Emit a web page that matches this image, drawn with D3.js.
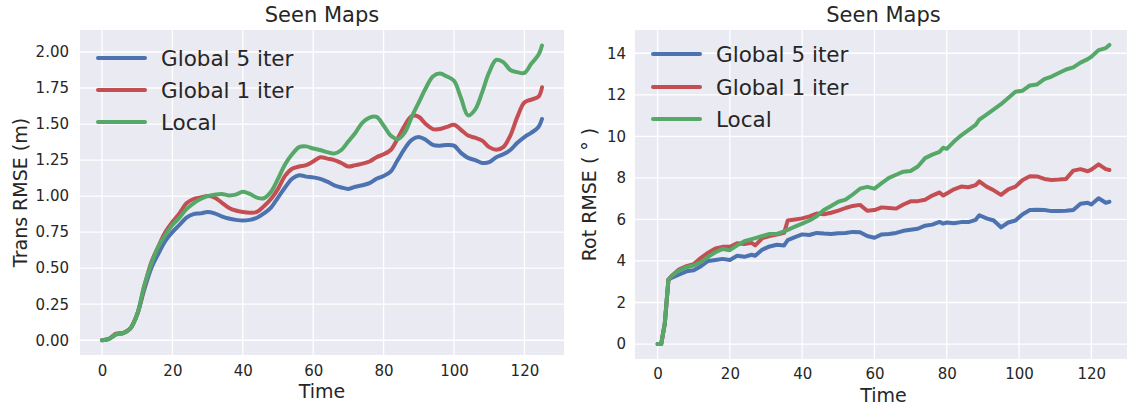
<!DOCTYPE html>
<html>
<head>
<meta charset="utf-8">
<script src="https://cdn.jsdelivr.net/npm/d3@7"></script>
<style>
  html, body { margin: 0; padding: 0; background: #ffffff; }
  svg { display: block; }
  text { font-family: "DejaVu Sans", sans-serif; fill: #262626; }
</style>
</head>
<body>
<svg id="chart" width="1127" height="410"></svg>
<script>
// ---------------- DATA ----------------
const seriesNames = ["Global 5 iter", "Global 1 iter", "Local"];
const seriesColors = ["#4C72B0", "#C44E52", "#55A868"];

const chartTitle = "Seen Maps";
const xLabel = "Time";
const transYLabel = "Trans RMSE (m)";
const rotYLabel = "Rot RMSE ( \u00B0 )";

const xTicks = [0, 20, 40, 60, 80, 100, 120];
const transTicks = [0, 0.25, 0.5, 0.75, 1.0, 1.25, 1.5, 1.75, 2.0];
const transTickLabels = ["0.00", "0.25", "0.50", "0.75", "1.00", "1.25", "1.50", "1.75", "2.00"];
const rotTicks = [0, 2, 4, 6, 8, 10, 12, 14];
const rotTickLabels = ["0", "2", "4", "6", "8", "10", "12", "14"];

// Translation RMSE (left panel)
const transTime = [0,2,4,6,8,10,12,14,16,18,20,22,24,26,28,30,32,34,36,38,40,42,44,46,48,50,52,54,56,58,60,62,64,66,68,70,72,74,76,78,80,82,84,86,88,90,92,94,96,98,100,102,104,106,108,110,112,114,116,118,120,122,124,125];
const transGlobal5 = [0,0.01,0.04,0.05,0.08,0.18,0.35,0.5,0.6,0.69,0.75,0.8,0.85,0.875,0.88,0.89,0.88,0.86,0.845,0.835,0.83,0.835,0.85,0.88,0.92,0.99,1.06,1.12,1.145,1.135,1.13,1.12,1.1,1.075,1.06,1.05,1.065,1.075,1.09,1.12,1.14,1.17,1.25,1.33,1.39,1.41,1.39,1.355,1.35,1.355,1.35,1.3,1.265,1.25,1.23,1.235,1.27,1.29,1.32,1.37,1.41,1.44,1.48,1.535];
const transGlobal1 = [0,0.01,0.045,0.05,0.08,0.18,0.37,0.54,0.65,0.75,0.82,0.88,0.95,0.98,0.99,1.0,0.99,0.955,0.92,0.9,0.89,0.885,0.89,0.93,0.98,1.05,1.14,1.19,1.205,1.215,1.24,1.27,1.26,1.25,1.23,1.205,1.215,1.225,1.24,1.27,1.29,1.32,1.4,1.49,1.555,1.55,1.5,1.465,1.465,1.48,1.495,1.46,1.42,1.405,1.385,1.34,1.322,1.34,1.42,1.55,1.65,1.67,1.69,1.755];
const transLocal = [0,0.01,0.04,0.05,0.08,0.18,0.38,0.53,0.65,0.73,0.8,0.85,0.91,0.95,0.98,1.0,1.01,1.015,1.005,1.01,1.03,1.015,0.99,0.985,1.03,1.12,1.22,1.29,1.34,1.345,1.33,1.32,1.305,1.295,1.32,1.38,1.44,1.51,1.545,1.55,1.49,1.42,1.395,1.44,1.55,1.65,1.75,1.83,1.85,1.83,1.8,1.68,1.56,1.6,1.72,1.86,1.945,1.93,1.875,1.86,1.855,1.92,1.98,2.045];

// Rotation RMSE (right panel)
const rotTime = [0,1,2,3,4,6,8,10,12,14,16,18,20,22,24,26,27,29,31,33,35,36,38,40,42,44,46,48,50,52,54,56,58,60,62,64,66,68,70,72,74,76,78,79,80,82,84,86,88,89,91,93,95,97,99,101,103,105,107,109,111,113,115,117,119,120,122,124,125];
const rotGlobal5 = [0,0,1.0,3.1,3.2,3.35,3.5,3.55,3.75,4.0,4.05,4.1,4.05,4.25,4.2,4.3,4.25,4.55,4.7,4.78,4.75,5.0,5.15,5.28,5.25,5.35,5.32,5.3,5.33,5.35,5.4,5.38,5.2,5.12,5.28,5.3,5.35,5.45,5.5,5.55,5.7,5.75,5.88,5.8,5.85,5.82,5.87,5.87,5.98,6.2,6.05,5.95,5.62,5.85,5.95,6.25,6.45,6.47,6.45,6.4,6.4,6.42,6.45,6.75,6.8,6.72,7.02,6.8,6.85];
const rotGlobal1 = [0,0,1.0,3.1,3.3,3.6,3.75,3.85,4.15,4.4,4.6,4.68,4.68,4.85,4.82,4.87,4.75,5.1,5.2,5.27,5.35,5.95,6.0,6.05,6.15,6.28,6.25,6.32,6.42,6.55,6.65,6.7,6.42,6.45,6.58,6.55,6.52,6.72,6.87,6.88,6.95,7.15,7.3,7.15,7.25,7.45,7.58,7.55,7.65,7.83,7.58,7.4,7.18,7.45,7.58,7.9,8.08,8.07,7.95,7.9,7.92,7.95,8.35,8.42,8.32,8.4,8.65,8.42,8.38];
const rotLocal = [0,0,1.0,3.1,3.3,3.55,3.7,3.78,3.95,4.2,4.42,4.58,4.52,4.75,4.95,5.05,5.1,5.2,5.3,5.3,5.42,5.5,5.65,5.8,5.95,6.15,6.45,6.65,6.85,6.95,7.2,7.48,7.57,7.48,7.75,8.0,8.15,8.3,8.33,8.55,8.95,9.12,9.25,9.45,9.4,9.75,10.05,10.3,10.55,10.8,11.05,11.3,11.55,11.85,12.15,12.2,12.45,12.5,12.75,12.88,13.05,13.22,13.32,13.55,13.72,13.83,14.15,14.25,14.4];

// ---------------- DRAW ----------------
const svg = d3.select("#chart");

function drawPanel(cfg) {
  const g = svg.append("g");
  const x = d3.scaleLinear().domain(cfg.xDomain).range([cfg.left, cfg.right]);
  const y = d3.scaleLinear().domain(cfg.yDomain).range([cfg.bottom, cfg.top]);

  g.append("rect")
    .attr("x", cfg.left).attr("y", cfg.top)
    .attr("width", cfg.right - cfg.left).attr("height", cfg.bottom - cfg.top)
    .attr("fill", "#EAEAF2");

  // grid
  g.append("g").selectAll("line").data(xTicks).join("line")
    .attr("x1", d => x(d)).attr("x2", d => x(d))
    .attr("y1", cfg.top).attr("y2", cfg.bottom)
    .attr("stroke", "#ffffff").attr("stroke-width", 1.3);
  g.append("g").selectAll("line").data(cfg.yTicks).join("line")
    .attr("x1", cfg.left).attr("x2", cfg.right)
    .attr("y1", d => y(d)).attr("y2", d => y(d))
    .attr("stroke", "#ffffff").attr("stroke-width", 1.3);

  // axes via d3 (no domain lines / tick marks, seaborn darkgrid style)
  const xAxis = d3.axisBottom(x).tickValues(xTicks).tickSize(0).tickPadding(cfg.xTickPad)
    .tickFormat(d3.format("d"));
  const gx = g.append("g").attr("transform", `translate(0,${cfg.bottom})`).call(xAxis);
  gx.select(".domain").remove();
  gx.selectAll("text").style("font-family", "DejaVu Sans").style("font-size", "15px").attr("fill", "#262626");

  const yAxis = d3.axisLeft(y).tickValues(cfg.yTicks).tickSize(0).tickPadding(cfg.yTickPad)
    .tickFormat((d, i) => cfg.yTickLabels[i]);
  const gy = g.append("g").attr("transform", `translate(${cfg.left},0)`).call(yAxis);
  gy.select(".domain").remove();
  gy.selectAll("text").style("font-family", "DejaVu Sans").style("font-size", "15px").attr("fill", "#262626");

  // lines
  const line = d3.line()
    .x((d, i) => x(cfg.time[i]))
    .y(d => y(d))
    .curve(cfg.curve);
  cfg.series.forEach((vals, k) => {
    g.append("path")
      .datum(vals)
      .attr("d", line)
      .attr("fill", "none")
      .attr("stroke", seriesColors[k])
      .attr("stroke-width", 4)
      .attr("stroke-linejoin", "round")
      .attr("stroke-linecap", "round");
  });

  // legend
  const leg = g.append("g");
  seriesNames.forEach((name, k) => {
    const yy = cfg.legendY[k];
    leg.append("line")
      .attr("x1", cfg.legendX).attr("x2", cfg.legendX + 47)
      .attr("y1", yy).attr("y2", yy)
      .attr("stroke", seriesColors[k]).attr("stroke-width", 4)
      .attr("stroke-linecap", "round");
    leg.append("text")
      .attr("x", cfg.legendX + 63).attr("y", yy + 7.8)
      .style("font-size", "21.5px")
      .text(name);
  });

  // title
  g.append("text")
    .attr("x", (cfg.left + cfg.right) / 2).attr("y", 22)
    .attr("text-anchor", "middle")
    .style("font-size", "21px")
    .text(chartTitle);

  // x label
  g.append("text")
    .attr("x", (cfg.left + cfg.right) / 2).attr("y", cfg.xLabelY)
    .attr("text-anchor", "middle")
    .style("font-size", "19px")
    .text(xLabel);

  // y label
  g.append("text")
    .attr("transform", `translate(${cfg.yLabelX},${(cfg.top + cfg.bottom) / 2}) rotate(-90)`)
    .attr("text-anchor", "middle")
    .style("font-size", "19px")
    .text(cfg.yLabel);
}

drawPanel({
  left: 80, right: 564, top: 30, bottom: 355,
  xDomain: [-6.25, 131.25], yDomain: [-0.1025, 2.1525],
  yTicks: transTicks, yTickLabels: transTickLabels,
  xTickPad: 10, yTickPad: 11,
  time: transTime, series: [transGlobal5, transGlobal1, transLocal],
  curve: d3.curveCatmullRom,
  legendX: 98, legendY: [58, 90, 122],
  xLabelY: 398, yLabelX: 27, yLabel: transYLabel
});

drawPanel({
  left: 635, right: 1132, top: 30, bottom: 359,
  xDomain: [-6.25, 131.25], yDomain: [-0.72, 15.12],
  yTicks: rotTicks, yTickLabels: rotTickLabels,
  xTickPad: 9, yTickPad: 9,
  time: rotTime, series: [rotGlobal5, rotGlobal1, rotLocal],
  curve: d3.curveLinear,
  legendX: 653, legendY: [54, 87, 119],
  xLabelY: 402, yLabelX: 596, yLabel: rotYLabel
});
</script>
</body>
</html>
